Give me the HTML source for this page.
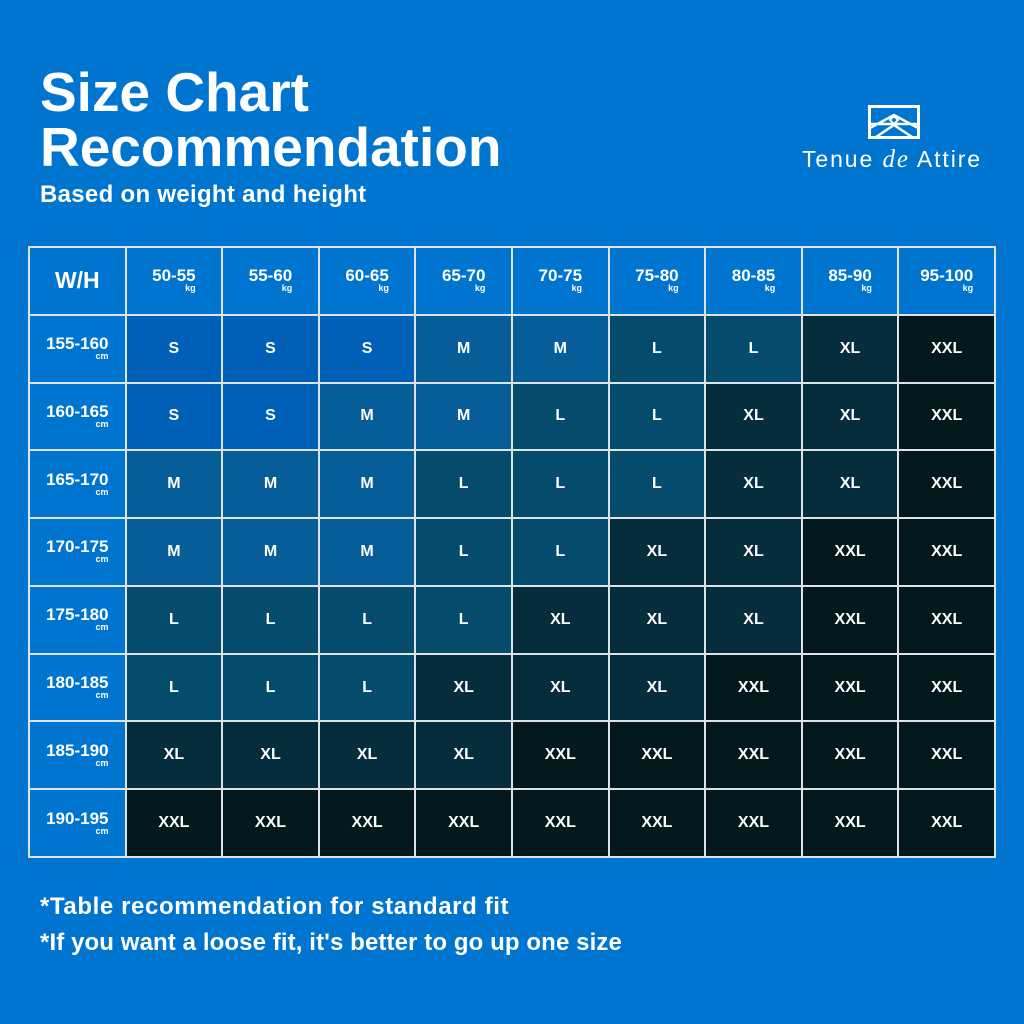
<!DOCTYPE html>
<html><head><meta charset="utf-8"><style>
*{margin:0;padding:0;box-sizing:border-box}
body{width:1024px;height:1024px;background:#0075d0;font-family:"Liberation Sans",sans-serif;color:#fff;position:relative;overflow:hidden}
.t{position:absolute;left:40px;font-weight:bold;white-space:nowrap}
.grid{position:absolute;left:28px;top:246px;width:968px;height:612px;background:#dfe3e6;padding:2px;display:grid;grid-template-columns:repeat(10,1fr);grid-template-rows:repeat(9,1fr);gap:2px}
.grid div{display:flex;align-items:center;justify-content:center;font-weight:bold;font-size:16px}
.h{background:#0075d0}
.grid .w{font-size:23px}
.u{display:inline-block;text-align:right;font-size:17px;line-height:16px}
.u small{display:block;font-size:9px;line-height:9px}
.S{background:#0060b8}.M{background:#065d97}.L{background:#054b6b}.X{background:#052d3b}.Z{background:#03191d}
</style></head><body>
<div class="t" style="top:62px;font-size:55px;line-height:60px;letter-spacing:0px">Size Chart</div>
<div class="t" style="top:117px;font-size:55px;line-height:60px;letter-spacing:0px">Recommendation</div>
<div class="t" style="top:181px;font-size:24px;letter-spacing:0.3px">Based on weight and height</div>
<svg style="position:absolute;left:868px;top:105px" width="52" height="34" viewBox="0 0 52 34"><rect x="1.5" y="1.5" width="49" height="31" fill="none" stroke="#fff" stroke-width="3"/><path d="M2 23 L26 10 L50 23 M2 19H50" stroke="#fff" stroke-width="2.5" fill="none"/><path d="M26 11 L30 15 L26 19 L22 15Z" fill="none" stroke="#fff" stroke-width="2"/><path d="M8 32 L26 20 L44 32" stroke="#fff" stroke-width="2.5" fill="none"/></svg>
<div style="position:absolute;left:802px;top:146px;font-size:23px;letter-spacing:1.9px;white-space:nowrap">Tenue <i style="font-family:'Liberation Serif',serif;font-size:25px">de</i> Attire</div>
<div class="grid">
<div class="h w">W/H</div>
<div class="h"><span class="u">50-55<small>kg</small></span></div>
<div class="h"><span class="u">55-60<small>kg</small></span></div>
<div class="h"><span class="u">60-65<small>kg</small></span></div>
<div class="h"><span class="u">65-70<small>kg</small></span></div>
<div class="h"><span class="u">70-75<small>kg</small></span></div>
<div class="h"><span class="u">75-80<small>kg</small></span></div>
<div class="h"><span class="u">80-85<small>kg</small></span></div>
<div class="h"><span class="u">85-90<small>kg</small></span></div>
<div class="h"><span class="u">95-100<small>kg</small></span></div>

<div class="h"><span class="u">155-160<small>cm</small></span></div>
<div class="S">S</div><div class="S">S</div><div class="S">S</div><div class="M">M</div><div class="M">M</div><div class="L">L</div><div class="L">L</div><div class="X">XL</div><div class="Z">XXL</div>
<div class="h"><span class="u">160-165<small>cm</small></span></div>
<div class="S">S</div><div class="S">S</div><div class="M">M</div><div class="M">M</div><div class="L">L</div><div class="L">L</div><div class="X">XL</div><div class="X">XL</div><div class="Z">XXL</div>
<div class="h"><span class="u">165-170<small>cm</small></span></div>
<div class="M">M</div><div class="M">M</div><div class="M">M</div><div class="L">L</div><div class="L">L</div><div class="L">L</div><div class="X">XL</div><div class="X">XL</div><div class="Z">XXL</div>
<div class="h"><span class="u">170-175<small>cm</small></span></div>
<div class="M">M</div><div class="M">M</div><div class="M">M</div><div class="L">L</div><div class="L">L</div><div class="X">XL</div><div class="X">XL</div><div class="Z">XXL</div><div class="Z">XXL</div>
<div class="h"><span class="u">175-180<small>cm</small></span></div>
<div class="L">L</div><div class="L">L</div><div class="L">L</div><div class="L">L</div><div class="X">XL</div><div class="X">XL</div><div class="X">XL</div><div class="Z">XXL</div><div class="Z">XXL</div>
<div class="h"><span class="u">180-185<small>cm</small></span></div>
<div class="L">L</div><div class="L">L</div><div class="L">L</div><div class="X">XL</div><div class="X">XL</div><div class="X">XL</div><div class="Z">XXL</div><div class="Z">XXL</div><div class="Z">XXL</div>
<div class="h"><span class="u">185-190<small>cm</small></span></div>
<div class="X">XL</div><div class="X">XL</div><div class="X">XL</div><div class="X">XL</div><div class="Z">XXL</div><div class="Z">XXL</div><div class="Z">XXL</div><div class="Z">XXL</div><div class="Z">XXL</div>
<div class="h"><span class="u">190-195<small>cm</small></span></div>
<div class="Z">XXL</div><div class="Z">XXL</div><div class="Z">XXL</div><div class="Z">XXL</div><div class="Z">XXL</div><div class="Z">XXL</div><div class="Z">XXL</div><div class="Z">XXL</div><div class="Z">XXL</div>
</div>
<div class="t" style="top:893px;font-size:24px;letter-spacing:0.6px">*Table recommendation for standard fit</div>
<div class="t" style="top:929px;font-size:24px;letter-spacing:0.1px">*If you want a loose fit, it's better to go up one size</div>
</body></html>
